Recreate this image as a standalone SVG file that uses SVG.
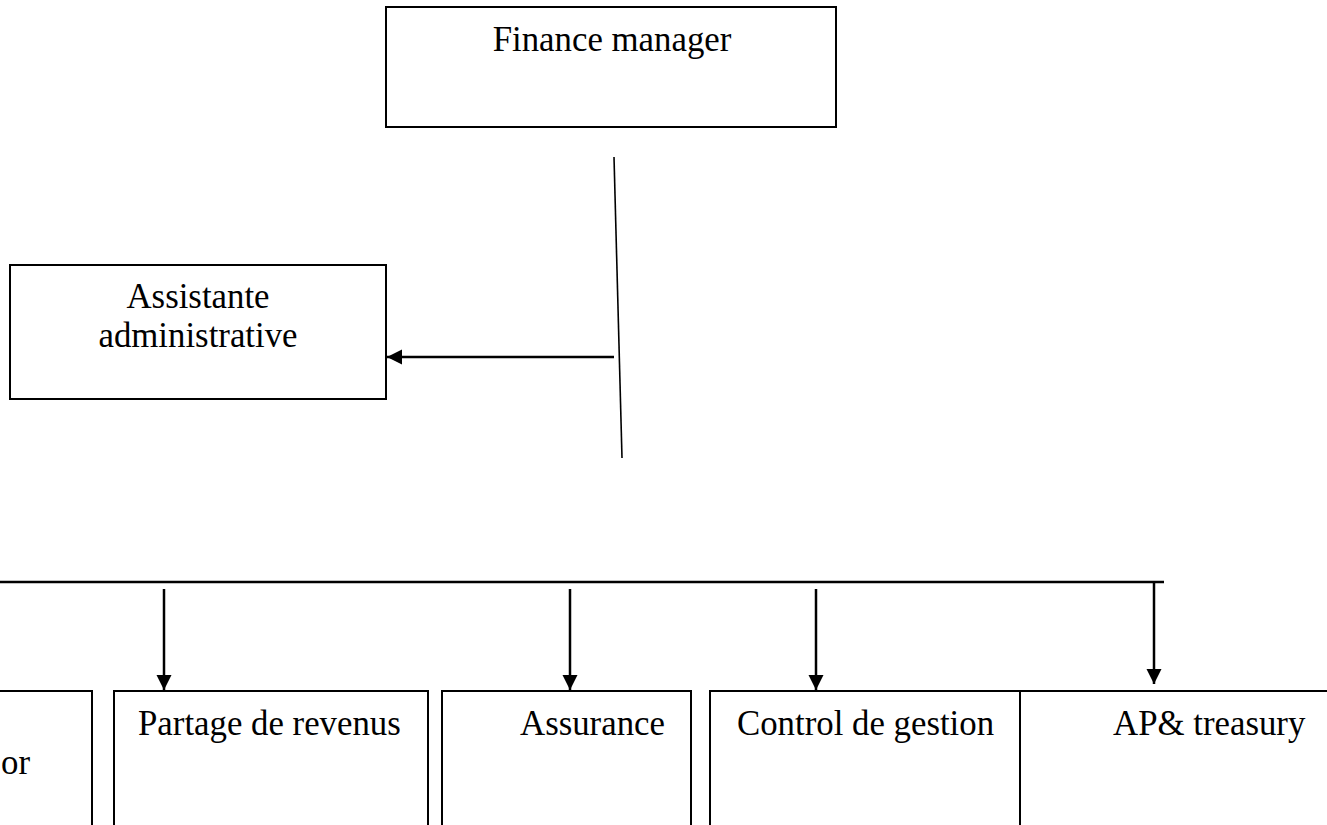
<svg xmlns="http://www.w3.org/2000/svg" width="1327" height="825" viewBox="0 0 1327 825">
<style>
.box{fill:#fff;stroke:#000;stroke-width:2}
.lbl{font-family:"Liberation Serif","Times New Roman",serif;font-size:34.8px;fill:#000}
.conn{stroke:#000;stroke-width:2.5;fill:none}
.thin{stroke:#000;stroke-width:1.6;fill:none}
</style>
<defs>
<marker id="ah" markerUnits="userSpaceOnUse" markerWidth="16" markerHeight="16" refX="15" refY="7.5" orient="auto">
<path d="M0,0 L15,7.5 L0,15 z" fill="#000"/>
</marker>
</defs>
<rect width="1327" height="825" fill="#fff"/>
<g id="finance-manager">
<rect class="box" x="386" y="7" width="450" height="120"/>
<text class="lbl" x="612" y="51" text-anchor="middle">Finance manager</text>
</g>
<g id="assistante">
<rect class="box" x="10" y="265" width="376" height="134"/>
<text class="lbl" x="198" y="308" text-anchor="middle">Assistante</text>
<text class="lbl" x="198" y="347" text-anchor="middle">administrative</text>
</g>
<g id="box-left">
<rect class="box" x="-20" y="691" width="112" height="150"/>
<text class="lbl" x="1" y="774">or</text>
</g>
<g id="partage">
<rect class="box" x="114" y="691" width="314" height="150"/>
<text class="lbl" x="138" y="735">Partage de revenus</text>
</g>
<g id="assurance">
<rect class="box" x="442" y="691" width="249" height="150"/>
<text class="lbl" x="520" y="735">Assurance</text>
</g>
<g id="control">
<rect class="box" x="710" y="691" width="310" height="150"/>
<text class="lbl" x="737" y="735">Control de gestion</text>
</g>
<g id="ap-treasury">
<rect class="box" x="1020" y="691" width="330" height="150"/>
<text class="lbl" x="1113" y="735">AP&amp; treasury</text>
</g>
<g id="connectors">
<line class="thin" x1="614" y1="157" x2="622" y2="458"/>
<line class="conn" x1="614" y1="357" x2="387" y2="357" marker-end="url(#ah)"/>
<line class="conn" x1="0" y1="582" x2="1164" y2="582"/>
<line class="conn" x1="164" y1="589" x2="164" y2="690" marker-end="url(#ah)"/>
<line class="conn" x1="570" y1="589" x2="570" y2="690" marker-end="url(#ah)"/>
<line class="conn" x1="816" y1="589" x2="816" y2="690" marker-end="url(#ah)"/>
<line class="conn" x1="1154" y1="582" x2="1154" y2="684" marker-end="url(#ah)"/>
</g>
</svg>
